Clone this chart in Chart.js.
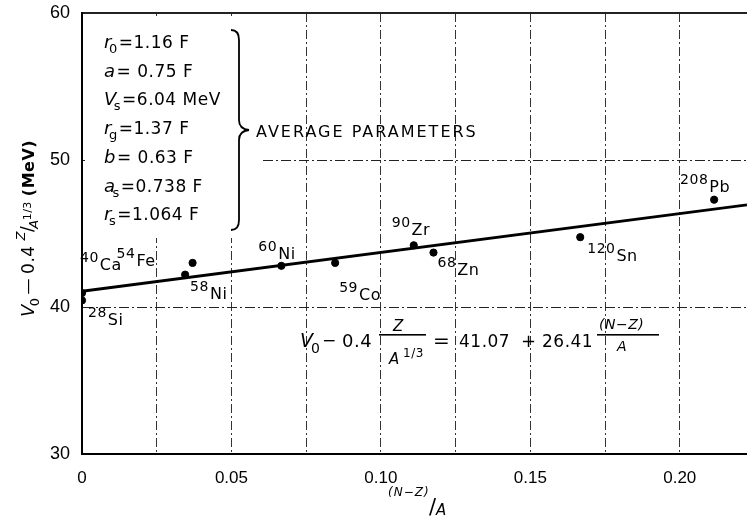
<!DOCTYPE html>
<html>
<head>
<meta charset="utf-8">
<script src="https://cdn.jsdelivr.net/npm/chart.js@4.4.0/dist/chart.umd.min.js"></script>
<style>
  html, body { margin: 0; padding: 0; background: #fff; }
  #wrap { width: 747px; height: 529px; }
</style>
</head>
<body>
<div id="wrap"><canvas id="chart"></canvas></div>
<script>
const massNumbers = ['40', '28', '54', '58', '60', '59', '90', '68', '120', '208'];
const symbols = ['Ca', 'Si', 'Fe', 'Ni', 'Ni', 'Co', 'Zr', 'Zn', 'Sn', 'Pb'];
const asymmetry = [0, 0, 0.037, 0.0345, 0.0667, 0.0847, 0.111, 0.1176, 0.1667, 0.2115];
const depth = [40.95, 40.45, 43.0, 42.2, 42.8, 43.0, 44.2, 43.7, 44.75, 47.3];

// fitted line V0 - 0.4 Z/A^1/3 = 41.07 + 26.41 (N-Z)/A
const fitX = [0, 0.2225];
const fitY = [41.07, 46.95];

const xTicks = [0, 0.025, 0.05, 0.075, 0.10, 0.125, 0.15, 0.175, 0.20];
const xTickLabels = ['0', '', '0.05', '', '0.10', '', '0.15', '', '0.20'];
const yTicks = [30, 40, 50, 60];

// average parameters: symbol, subscript, rest
const paramNames = ['r', 'a', 'V', 'r', 'b', 'a', 'r'];
const paramSubs = ['0', '', 's', 'g', '', 's', 's'];
const paramValues = ['=1.16 F', '= 0.75 F', '=6.04 MeV', '=1.37 F', '= 0.63 F', '=0.738 F', '=1.064 F'];

// label placement (pixels from the dot): [dx, dy of mass number baseline]
const labelOffsets = [[-2, -31], [6, 17], [-76, -5], [5, 16], [-23, -15], [4, 29], [-22, -18], [4, 14], [7, 16], [-34, -16]];

const FONT = '"DejaVu Sans", "Liberation Sans", sans-serif';
const TICKFONT = '"Liberation Sans", Arial, sans-serif';

function drawRuns(ctx, x, y, runs) {
    runs.forEach((r) => {
        ctx.font = r[1];
        ctx.fillText(r[0], x, y + (r[2] || 0));
        x += ctx.measureText(r[0]).width + (r[3] || 0);
    });
    return x;
}

function noPadding(s) {
    s.paddingTop = 0;
    s.paddingBottom = 0;
    s.paddingLeft = 0;
    s.paddingRight = 0;
}

const decor = {
    id: 'decor',
    beforeDatasetsDraw(chart) {
        // blank area behind the parameter list
        const ctx = chart.ctx;
        ctx.save();
        ctx.fillStyle = '#fff';
        ctx.fillRect(85, 16, 177, 222);
        ctx.restore();
    },
    afterDraw(chart) {
        const ctx = chart.ctx;
        const xs = chart.scales.x, ys = chart.scales.y;
        ctx.save();
        ctx.fillStyle = '#000';
        ctx.strokeStyle = '#000';
        ctx.textBaseline = 'alphabetic';
        ctx.textAlign = 'left';
        ctx.letterSpacing = '0.5px';

        // isotope labels
        asymmetry.forEach((v, i) => {
            const px = xs.getPixelForValue(v);
            const py = ys.getPixelForValue(depth[i]);
            const x = px + labelOffsets[i][0];
            const y = py + labelOffsets[i][1];
            ctx.font = '14px ' + FONT;
            ctx.fillText(massNumbers[i], x, y);
            const w = ctx.measureText(massNumbers[i]).width;
            ctx.font = '16px ' + FONT;
            ctx.fillText(symbols[i], x + w + 1, y + 8);
        });

        // parameter list
        paramNames.forEach((n, i) => {
            const y = 48 + i * 28.7;
            let x = drawRuns(ctx, 104, y, [[n, 'italic 18px ' + FONT, 0]]);
            if (paramSubs[i]) x = drawRuns(ctx, x - 3, y, [[paramSubs[i], '13px ' + FONT, 5]]);
            drawRuns(ctx, x + 1, y, [[paramValues[i], '17px ' + FONT, 0]]);
        });

        // brace
        ctx.lineWidth = 1.8;
        ctx.beginPath();
        ctx.moveTo(231, 30);
        ctx.quadraticCurveTo(239, 30, 239, 40);
        ctx.lineTo(239, 120);
        ctx.quadraticCurveTo(239, 129, 249, 130);
        ctx.quadraticCurveTo(239, 131, 239, 140);
        ctx.lineTo(239, 220);
        ctx.quadraticCurveTo(239, 230, 231, 230);
        ctx.stroke();
        ctx.letterSpacing = '2px';
        ctx.font = '16px ' + FONT;
        ctx.fillText('AVERAGE PARAMETERS', 256, 137);
        ctx.letterSpacing = '0.5px';

        // equation
        drawRuns(ctx, 300, 347, [['V', 'italic 19px ' + FONT, 0]]);
        drawRuns(ctx, 311, 353, [['0', '14px ' + FONT, 0]]);
        drawRuns(ctx, 322, 347, [['\u2212', '17px ' + FONT, -1]]);
        drawRuns(ctx, 342, 347, [['0.4', '18px ' + FONT, 0]]);
        ctx.fillRect(379, 334, 47, 1.6);
        drawRuns(ctx, 393, 331, [['Z', 'italic 15px ' + FONT, 0]]);
        drawRuns(ctx, 389, 364, [['A', 'italic 15px ' + FONT, 0]]);
        drawRuns(ctx, 403, 357, [['1/3', '12px ' + FONT, 0]]);
        drawRuns(ctx, 433, 347, [['=', '20px ' + FONT, 0]]);
        drawRuns(ctx, 459, 347, [['41.07', '17px ' + FONT, 0]]);
        drawRuns(ctx, 521, 347, [['+', '18px ' + FONT, 0]]);
        drawRuns(ctx, 542, 347, [['26.41', '17px ' + FONT, 0]]);
        ctx.fillRect(597, 334, 62, 1.6);
        drawRuns(ctx, 599, 329, [['(N\u2212Z)', 'italic 14px ' + FONT, 0]]);
        drawRuns(ctx, 617, 351, [['A', 'italic 14px ' + FONT, 0]]);

        // x axis title
        ctx.letterSpacing = '1px';
        drawRuns(ctx, 388, 496, [['(N\u2212Z)', 'italic 12px ' + FONT, 0]]);
        drawRuns(ctx, 429, 514, [['/', '21px ' + FONT, 0]]);
        drawRuns(ctx, 436, 515, [['A', 'italic 15px ' + FONT, 0]]);

        // y axis title
        ctx.translate(34, 317);
        ctx.rotate(-Math.PI / 2);
        ctx.letterSpacing = '0.5px';
        drawRuns(ctx, 0, 0, [
            ['V', 'italic 18px ' + FONT, 0, -2],
            ['0', '13px ' + FONT, 5, 3],
            ['\u2014', '16px ' + FONT, -1, 4],
            ['0.4', '17px ' + FONT, 0, 5],
            ['Z', 'italic 13px ' + FONT, -9, -1],
            ['/', '17px ' + FONT, -1, -3],
            ['A', 'italic 13px ' + FONT, 4, -1],
            ['1/3', '11px ' + FONT, -3, 5],
            ['(MeV)', 'bold 16px ' + FONT, 0]
        ]);
        ctx.restore();
    }
};

new Chart(document.getElementById('chart'), {
    type: 'scatter',
    data: {
        datasets: [{
            data: asymmetry.map((v, i) => ({x: v, y: depth[i]})),
            backgroundColor: '#000',
            borderColor: '#000',
            pointRadius: 3.6,
            pointHoverRadius: 3.6
        }, {
            data: fitX.map((v, i) => ({x: v, y: fitY[i]})),
            showLine: true,
            borderColor: '#000',
            borderWidth: 2.8,
            pointRadius: 0
        }]
    },
    plugins: [decor],
    options: {
        responsive: true,
        maintainAspectRatio: false,
        animation: false,
        events: [],
        layout: {autoPadding: false, padding: {top: 13, right: 0, left: 0, bottom: 0}},
        plugins: {legend: {display: false}, tooltip: {enabled: false}},
        scales: {
            x: {
                type: 'linear',
                bounds: 'data',
                min: 0,
                max: 0.2225,
                afterBuildTicks: (s) => { s.ticks = xTicks.map((v) => ({value: v})); },
                afterFit: (s) => { s.height = 75; noPadding(s); },
                ticks: {
                    callback: (v, i) => xTickLabels[i],
                    color: '#000',
                    font: {family: TICKFONT, size: 17},
                    padding: 14,
                    maxRotation: 0,
                    autoSkip: false
                },
                grid: {
                    color: '#333',
                    lineWidth: (c) => (c.index === 0 ? 0 : 1),
                    drawTicks: false
                },
                border: {display: true, color: '#000', width: 2, dash: [9, 3, 2, 3]}
            },
            y: {
                bounds: 'data',
                min: 30,
                max: 60,
                afterBuildTicks: (s) => { s.ticks = yTicks.map((v) => ({value: v})); },
                afterFit: (s) => { s.width = 82; noPadding(s); },
                ticks: {
                    color: '#000',
                    font: {family: TICKFONT, size: 18},
                    padding: 12
                },
                grid: {
                    color: '#222',
                    lineWidth: (c) => (c.tick && c.tick.value === 60 ? 2 : (c.tick && c.tick.value === 30 ? 0 : 1)),
                    drawTicks: false
                },
                border: {
                    display: true, color: '#000', width: 2,
                    dash: (c) => (c.tick && c.tick.value === 60 ? [] : [10, 3, 2, 3])
                }
            }
        }
    }
});
</script>
</body>
</html>
